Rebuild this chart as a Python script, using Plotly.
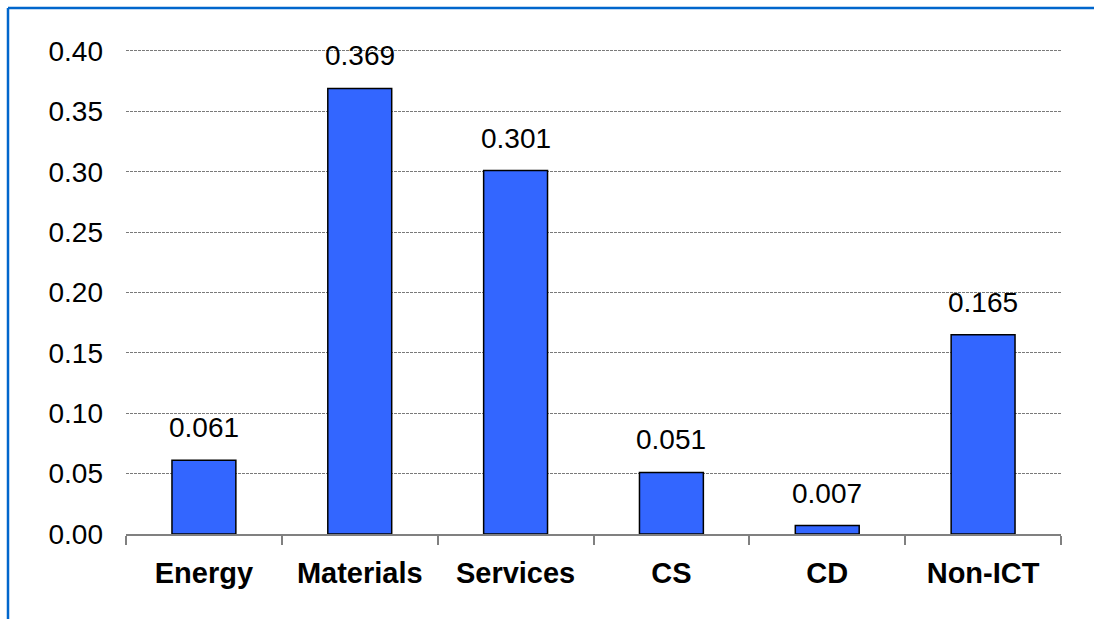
import plotly.graph_objects as go

# Sector contributions
sectors = ["Energy", "Materials", "Services", "CS", "CD", "Non-ICT"]
values = [0.061, 0.369, 0.301, 0.051, 0.007, 0.165]
value_labels = ["0.061", "0.369", "0.301", "0.051", "0.007", "0.165"]
y_ticks = [0.00, 0.05, 0.10, 0.15, 0.20, 0.25, 0.30, 0.35, 0.40]

FONT = "Arial, 'Liberation Sans', sans-serif"

fig = go.Figure()
fig.add_trace(go.Bar(
    x=sectors,
    y=values,
    marker=dict(color="#3366FF", line=dict(color="#000000", width=1.5)),
    hoverinfo="x+y",
))

# Value labels above each bar
for s, v, t in zip(sectors, values, value_labels):
    fig.add_annotation(
        x=s, y=v, text=t, showarrow=False,
        yanchor="bottom", yshift=15,
        font=dict(family=FONT, size=28, color="#000000"),
    )

# Blue frame around the chart (left and top edges), in paper units
PLOT_W, PLOT_H = 935, 487
frame_x = -118 / PLOT_W
frame_y = 1 + 39 / PLOT_H
frame_color = "#0066CC"
fig.add_shape(type="line", xref="paper", yref="paper",
              x0=frame_x, x1=frame_x, y0=frame_y, y1=-0.4,
              line=dict(color=frame_color, width=2.5))
fig.add_shape(type="line", xref="paper", yref="paper",
              x0=frame_x, x1=1.2, y0=frame_y, y1=frame_y,
              line=dict(color=frame_color, width=2.5))

fig.update_layout(
    width=1094, height=619,
    margin=dict(l=126, r=33, t=47, b=85),
    paper_bgcolor="#FFFFFF",
    plot_bgcolor="#FFFFFF",
    bargap=0.59,
    showlegend=False,
    font=dict(family=FONT, color="#000000"),
)

fig.update_xaxes(
    type="category",
    tickson="boundaries",
    ticks="outside", ticklen=9, tickcolor="#808080", tickwidth=1.5,
    showline=True, linecolor="#808080", linewidth=1.5,
    showgrid=False,
    tickfont=dict(family=FONT, size=29, color="#000000", weight="bold"),
    ticklabelstandoff=12,
)

fig.update_yaxes(
    range=[0, 0.4033],
    tickvals=y_ticks,
    tickformat=".2f",
    showgrid=True, gridcolor="#7a7a7a", gridwidth=1, griddash="3px,1px",
    zeroline=False, showline=False, ticks="",
    tickfont=dict(family=FONT, size=28, color="#000000"),
    ticklabelstandoff=22,
)

fig.write_html("out.html")
